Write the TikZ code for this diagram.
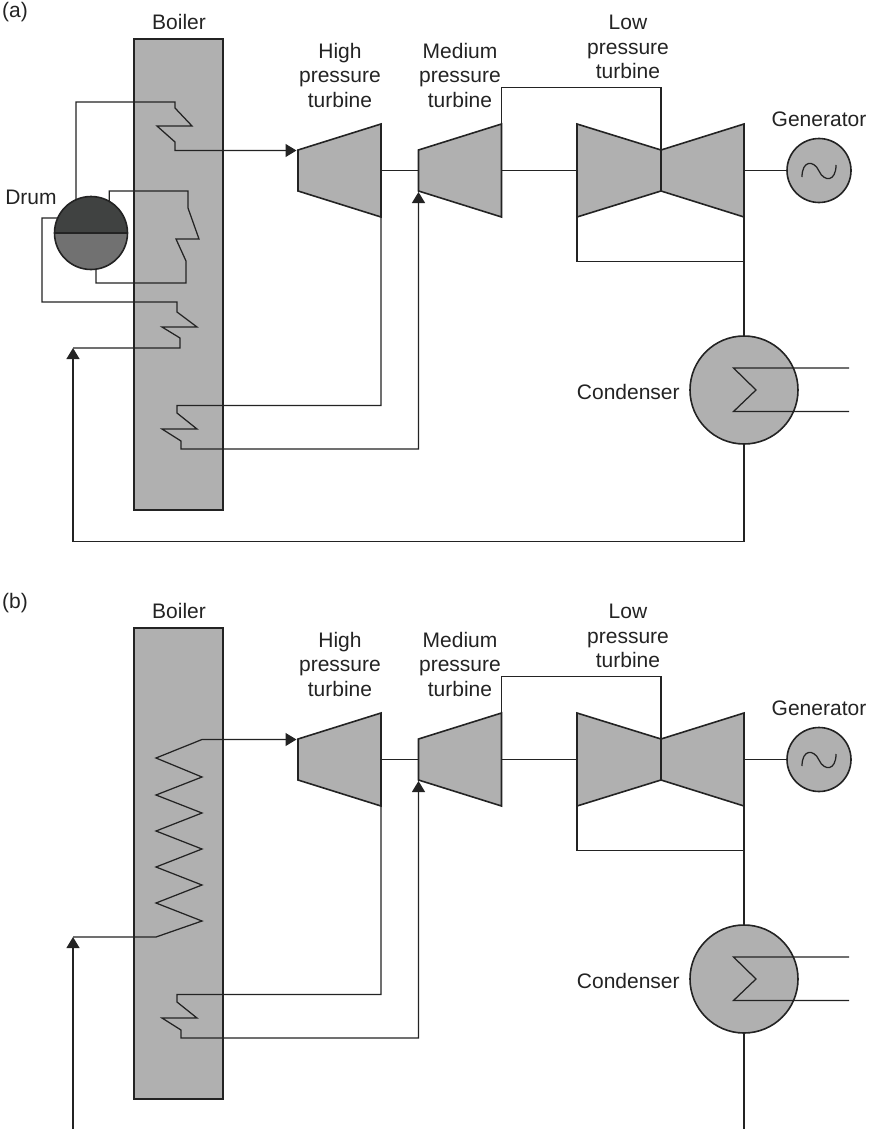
\documentclass[tikz,border=0pt]{standalone}
\usepackage{fontspec}
\setmainfont{Liberation Sans}
\usetikzlibrary{arrows.meta,positioning}
\definecolor{inkcol}{HTML}{232323}
\definecolor{bodycol}{HTML}{B0B0B0}
\definecolor{drumtop}{HTML}{404241}
\definecolor{drumlow}{HTML}{717171}
\tikzset{
 pipe/.style={draw=inkcol,line width=1.25pt,line join=miter},
 feed/.style={pipe,-{Triangle[length=11pt,width=13pt]}},
 unit/.style={draw=inkcol,fill=bodycol,line width=1.6pt},
 label/.style={text=inkcol,align=center,font=\fontsize{21}{24.5}\selectfont},
}
% parts that both plants have
\newcommand{\plantparts}{
 \node [unit,minimum width=89pt,minimum height=471pt,inner sep=0pt] (boiler) at (178.5,274.5) {};
 \node [label] (boilertxt) at (179,22) {Boiler};
 % turbines
 \draw [unit] (298,150) -- (381,124) coordinate (hptop) -- (381,217) coordinate (hpout) -- (298,191) -- cycle;
 \draw [unit] (418.5,150) -- (501.5,124) coordinate (mptop) -- (501.5,217) -- (418.5,191) -- cycle;
 \draw [unit] (577,124) -- (661,150) coordinate (lpmid) -- (744,124) -- (744,217) coordinate (lpright) -- (661,191) -- (577,217) coordinate (lpleft) -- cycle;
 \draw [unit] (lpmid) -- (661,191);
 \coordinate (hpin) at (296.5,150.5);
 \coordinate (mpin) at (418.5,192);
 \node [label] (hptxt) at (340,75) {High\\pressure\\turbine};
 \node [label] (mptxt) at (460,75) {Medium\\pressure\\turbine};
 \node [label] (lptxt) at (628,47) {Low\\pressure\\turbine};
 % generator and condenser
 \node [unit,circle,minimum size=64pt,inner sep=0pt] (gen) at (819,170.5) {};
 \node [label,above=7pt of gen] (gentxt) {Generator};
 \draw [pipe] (802,177) .. controls (802,160) and (814,160) .. (819,171) .. controls (824,182) and (836,182) .. (836,165);
 \node [unit,circle,minimum size=108pt,inner sep=0pt] (cond) at (744,390) {};
 \node [label,left=6pt of cond,yshift=-2pt] (condtxt) {Condenser};
 \coordinate (cwin) at (849,368);
 \coordinate (cwout) at (849,411.5);
 \draw [pipe] (cwin) -- (733.5,368) -- (756,390) -- (733.5,411.5) -- (cwout);
 % shafts
 \draw [pipe] (381,170.5) -- (418.5,170.5);
 \draw [pipe] (501.5,170.5) -- (577,170.5);
 \draw [pipe] (744,170.5) -- (gen);
 % steam lines
 \draw [pipe] (mptop) |- (661,87.5) -- (lpmid);
 \draw [pipe] (lpleft) |- (744,261.5) coordinate (lpjoin);
 \draw [pipe] (lpright) -- (lpjoin) -- (cond);
 % reheater
 \draw [feed] (hpout) |- (177,405.5) -- (177,413) -- (197,429) -- (162,429) -- (181,441) -- (181,449) -| (mpin);
}

\begin{document}
\begin{tikzpicture}[x=1pt,y=-1pt]
 \useasboundingbox (0,0) rectangle (876,1129);
 \begin{scope}[name prefix=a]
  \plantparts
  \node [label] (paneltxt) at (15,12) {(a)};
  \node [circle,minimum size=73pt,inner sep=0pt,path picture={
    \fill [drumtop] (path picture bounding box.north west) rectangle (path picture bounding box.east);
    \fill [drumlow] (path picture bounding box.west) rectangle (path picture bounding box.south east);
   }] (drum) at (91,233) {};
  \draw [unit,fill=none] (drum.center) circle (36.5);
  \draw [unit] (drum.west) -- (drum.east);
  \node [label] (drumtxt) at (31,197) {Drum};
  % superheater
  \draw [feed] (drum.114) |- (175,102) -- (175,108) -- (192,126) -- (157,126) -- (175,142) -- (175,150.5) -- (hpin);
  % evaporator
  \draw [pipe] (drum.60) |- (188,191) -- (188,208) -- (199,239) -- (176,239) -- (186,261) -- (186,283) -| (drum.-82);
  % economiser
  \coordinate (feedtip) at (73,348);
  \draw [pipe] (drum.156) -| (42,302) -- (177,302) -- (177,312) -- (197,327) -- (162,327) -- (180,338) -- (180,348) -- (feedtip);
  \draw [feed] (cond) -- (744,541.5) -| (feedtip);
 \end{scope}
 \begin{scope}[shift={(0,589)},name prefix=b]
  \plantparts
  \node [label] (paneltxt) at (15,14) {(b)};
  % once through coil
  \coordinate (feedtip) at (73,348);
  \draw [feed] (feedtip) -- (156,348) -- (202,332) -- (156,314) -- (202,296) -- (156,278) -- (202,260) -- (156,242) -- (202,224) -- (156,206) -- (202,188) -- (156,169) -- (202,150.5) -- (hpin);
  \coordinate (feedend) at (73,540);
  \coordinate (condend) at (744,540);
  \draw [feed] (feedend) -- (feedtip);
  \draw [pipe] (cond) -- (condend);
 \end{scope}
\end{tikzpicture}
\end{document}
